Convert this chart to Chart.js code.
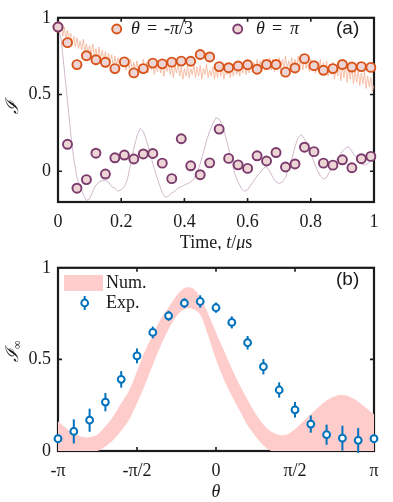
<!DOCTYPE html>
<html>
<head>
<meta charset="utf-8">
<script src="https://cdn.jsdelivr.net/npm/chart.js@4.4.1/dist/chart.umd.min.js"></script>
<style>
  body { margin: 0; background: #fff; }
  #wrap { position: relative; width: 393px; height: 502px; }
  canvas { position: absolute; left: 0; }
</style>
</head>
<body>
<div id="wrap">
  <canvas id="top" width="393" height="250" style="top:0"></canvas>
  <canvas id="bot" width="393" height="252" style="top:250px"></canvas>
</div>
<script>
// ---- panel (a): I(t) for two angles ----
const tMarkers = [0, 0.03, 0.06, 0.09, 0.12, 0.15, 0.18, 0.21, 0.24, 0.27, 0.30, 0.33, 0.36, 0.39, 0.42, 0.45, 0.48,
  0.51, 0.54, 0.57, 0.60, 0.63, 0.66, 0.69, 0.72, 0.75, 0.78, 0.81, 0.84, 0.87, 0.90, 0.93, 0.96, 0.99];
const expMinusPi3 = [0.94, 0.838, 0.695, 0.753, 0.727, 0.710, 0.669, 0.713, 0.641, 0.669, 0.705, 0.70, 0.711, 0.718,
  0.717, 0.761, 0.745, 0.682, 0.675, 0.686, 0.694, 0.665, 0.696, 0.696, 0.646, 0.673, 0.734, 0.688, 0.658, 0.669,
  0.696, 0.679, 0.682, 0.677];
const expPi = [0.94, 0.176, -0.11, -0.054, 0.118, -0.018, 0.088, 0.106, 0.08, 0.113, 0.116, 0.053, -0.048, 0.212,
  0.036, -0.022, 0.055, 0.275, 0.084, 0.042, 0.019, 0.101, 0.067, 0.122, 0.028, 0.048, 0.157, 0.128, 0.053, 0.04,
  0.075, 0.023, 0.082, 0.097];

// simulated curves, sampled on a regular time grid
const numMinusPi3Step = 0.005;
const numMinusPi3 = [
  0.95, 0.90, 0.96, 0.88, 0.94, 0.86, 0.92, 0.85, 0.90, 0.83,
  0.88, 0.81, 0.87, 0.80, 0.85, 0.79, 0.86, 0.78, 0.83, 0.77,
  0.82, 0.76, 0.83, 0.75, 0.80, 0.74, 0.81, 0.73, 0.79, 0.72,
  0.78, 0.70, 0.77, 0.71, 0.76, 0.68, 0.75, 0.69, 0.74, 0.67,
  0.73, 0.68, 0.74, 0.66, 0.72, 0.67, 0.73, 0.65, 0.71, 0.66,
  0.72, 0.64, 0.70, 0.66, 0.73, 0.65, 0.71, 0.64, 0.70, 0.66,
  0.71, 0.63, 0.69, 0.65, 0.72, 0.64, 0.70, 0.62, 0.69, 0.65,
  0.70, 0.63, 0.68, 0.61, 0.69, 0.64, 0.70, 0.62, 0.68, 0.60,
  0.67, 0.62, 0.69, 0.61, 0.67, 0.63, 0.70, 0.61, 0.68, 0.62,
  0.69, 0.60, 0.67, 0.63, 0.70, 0.61, 0.66, 0.62, 0.68, 0.60,
  0.67, 0.61, 0.69, 0.62, 0.68, 0.60, 0.66, 0.63, 0.69, 0.61,
  0.67, 0.62, 0.70, 0.63, 0.68, 0.62, 0.69, 0.64, 0.71, 0.63,
  0.70, 0.64, 0.72, 0.65, 0.71, 0.64, 0.73, 0.66, 0.72, 0.65,
  0.73, 0.66, 0.72, 0.67, 0.74, 0.66, 0.73, 0.65, 0.72, 0.67,
  0.74, 0.66, 0.73, 0.67, 0.75, 0.66, 0.72, 0.68, 0.74, 0.66,
  0.73, 0.67, 0.75, 0.68, 0.73, 0.66, 0.74, 0.67, 0.72, 0.65,
  0.73, 0.66, 0.72, 0.64, 0.71, 0.65, 0.73, 0.63, 0.71, 0.64,
  0.72, 0.62, 0.70, 0.63, 0.71, 0.60, 0.69, 0.62, 0.70, 0.59,
  0.68, 0.61, 0.69, 0.58, 0.67, 0.60, 0.68, 0.57, 0.66, 0.58,
  0.66, 0.56, 0.64, 0.57, 0.65, 0.54, 0.62, 0.55, 0.61, 0.52,
  0.56];
const numPiStep = 0.01;
const numPi = [
  0.94, 0.86, 0.66, 0.46, 0.25, 0.08, -0.04, -0.10, -0.15, -0.19,
  -0.18, -0.13, -0.09, -0.07, -0.06, -0.06, -0.07, -0.10, -0.11, -0.13,
  -0.12, -0.10, -0.05, 0.05, 0.15, 0.23, 0.28, 0.26, 0.20, 0.13,
  0.05, -0.02, -0.08, -0.14, -0.17, -0.16, -0.14, -0.13, -0.11, -0.10,
  -0.09, -0.08, -0.07, -0.05, -0.01, 0.05, 0.12, 0.20, 0.26, 0.31,
  0.35, 0.34, 0.30, 0.23, 0.15, 0.06, -0.02, -0.07, -0.11, -0.13,
  -0.12, -0.09, -0.06, -0.03, -0.01, 0.02, 0.03, 0.00, -0.04, -0.07,
  -0.08, -0.07, -0.04, 0.02, 0.08, 0.16, 0.22, 0.24, 0.21, 0.18,
  0.12, 0.06, 0.01, -0.03, -0.05, -0.04, 0.00, 0.04, 0.07, 0.10,
  0.13, 0.15, 0.16, 0.13, 0.10, 0.08, 0.05, 0.04, 0.05, 0.07,
  0.07];
const tTicks = [0, 0.2, 0.4, 0.6, 0.8, 1];
const iTicks = [0, 0.5, 1];

// ---- panel (b): I_inf vs theta ----
const thetaExpStep = Math.PI / 10;
const expInf = [0.067, 0.107, 0.168, 0.267, 0.391, 0.519, 0.647, 0.738, 0.807, 0.816, 0.782, 0.702, 0.591, 0.46,
  0.333, 0.225, 0.147, 0.089, 0.07, 0.058, 0.067];
const expInfErr = [0.02, 0.066, 0.063, 0.05, 0.045, 0.04, 0.032, 0.027, 0.027, 0.034, 0.028, 0.033, 0.037, 0.042,
  0.042, 0.042, 0.047, 0.055, 0.068, 0.068, 0.02];
const bandStep = Math.PI / 20;
const bandUpper = [0.163, 0.125, 0.095, 0.078, 0.075, 0.09, 0.135, 0.19, 0.26, 0.33, 0.435, 0.545, 0.635, 0.72,
  0.785, 0.848, 0.89, 0.89, 0.84, 0.75, 0.645, 0.55, 0.45, 0.36, 0.28, 0.205, 0.145, 0.105, 0.087, 0.09, 0.12,
  0.16, 0.2, 0.24, 0.275, 0.298, 0.305, 0.295, 0.27, 0.235, 0.2];
const bandLower = [0, 0, 0, 0, 0, 0, 0.025, 0.06, 0.11, 0.17, 0.26, 0.36, 0.47, 0.575, 0.665, 0.735, 0.775, 0.777,
  0.745, 0.63, 0.5, 0.39, 0.3, 0.22, 0.14, 0.08, 0.03, 0, 0, 0, 0, 0, 0, 0, 0, 0, 0, 0, 0, 0, 0];
const thetaTicks = [-Math.PI, -Math.PI / 2, 0, Math.PI / 2, Math.PI];
const thetaTickLabels = ['-π', '-π/2', '0', 'π/2', 'π'];

const serif = '"Liberation Serif", "Times New Roman", serif';
const sans = '"Liberation Sans", Arial, sans-serif';
const ORANGE = '#d95319', PURPLE = '#7a3a6c', FILL = '#edd5d6', BLUE = '#0072bd';

const pts = (xs, ys) => ys.map((y, i) => ({ x: xs[i], y }));
const grid = (step, ys, x0) => ys.map((y, i) => ({ x: x0 + i * step, y }));

function txt(ctx, s, x, y, italic, size, font, align) {
  ctx.font = (italic ? 'italic ' : '') + size + 'px ' + (font || serif);
  ctx.textAlign = align || 'left';
  ctx.textBaseline = 'middle';
  ctx.fillStyle = '#1a1a1a';
  ctx.fillText(s, x, y);
  return ctx.measureText(s).width;
}

function circle(ctx, x, y, r, fill, stroke, lw) {
  ctx.beginPath();
  ctx.arc(x, y, r, 0, Math.PI * 2);
  ctx.fillStyle = fill; ctx.fill();
  ctx.lineWidth = lw; ctx.strokeStyle = stroke; ctx.stroke();
}

// box with inward ticks, MATLAB style
function boxPlugin(xt, yt) {
  return {
    id: 'box',
    beforeDatasetsDraw(chart) {
      const { ctx, chartArea: a, scales } = chart;
      ctx.save();
      ctx.strokeStyle = '#1a1a1a';
      ctx.lineWidth = 1.6;
      xt.forEach(v => {
        const px = scales.x.getPixelForValue(v);
        ctx.beginPath();
        ctx.moveTo(px, a.bottom); ctx.lineTo(px, a.bottom - 4);
        ctx.moveTo(px, a.top); ctx.lineTo(px, a.top + 4);
        ctx.stroke();
      });
      yt.forEach(v => {
        const py = scales.y.getPixelForValue(v);
        ctx.beginPath();
        ctx.moveTo(a.left, py); ctx.lineTo(a.left + 4, py);
        ctx.moveTo(a.right, py); ctx.lineTo(a.right - 4, py);
        ctx.stroke();
      });
      ctx.lineWidth = 2.2;
      ctx.strokeRect(a.left, a.top, a.right - a.left, a.bottom - a.top);
      ctx.restore();
    }
  };
}

function axisScales(xmin, xmax, xticks, xlabel, xh) {
  return {
    x: {
      type: 'linear', min: xmin, max: xmax,
      afterBuildTicks: s => { s.ticks = xticks.map(v => ({ value: v })); },
      afterFit: s => { s.height = xh; },
      grid: { display: false, drawTicks: false }, border: { display: false },
      ticks: { padding: 9, maxRotation: 0, autoSkip: false, color: '#1a1a1a',
        font: { family: serif, size: 18 }, callback: xlabel }
    },
    y: {
      type: 'linear',
      afterFit: s => { s.width = 58; },
      grid: { display: false, drawTicks: false }, border: { display: false },
      ticks: { padding: 7, color: '#1a1a1a', font: { family: serif, size: 18 },
        callback: v => String(+v.toFixed(1)) }
    }
  };
}

// ---------- top chart ----------
const topScales = axisScales(0, 1, tTicks, v => String(+v.toFixed(1)), 48);
topScales.y.min = -0.2; topScales.y.max = 1;
topScales.y.afterBuildTicks = s => { s.ticks = iTicks.map(v => ({ value: v })); };

new Chart(document.getElementById('top'), {
  type: 'scatter',
  data: {
    datasets: [
      { data: pts(tMarkers, expPi), order: 0, clip: false, pointRadius: 4.5, pointBorderWidth: 1.9,
        pointBackgroundColor: FILL, pointBorderColor: PURPLE, showLine: false },
      { data: pts(tMarkers, expMinusPi3), order: 1, clip: false, pointRadius: 4.5, pointBorderWidth: 1.9,
        pointBackgroundColor: FILL, pointBorderColor: ORANGE, showLine: false },
      { data: grid(numPiStep, numPi, 0), order: 2, showLine: true, pointRadius: 0,
        borderColor: '#c6a7bf', borderWidth: 0.8 },
      { data: grid(numMinusPi3Step, numMinusPi3, 0), order: 3, showLine: true, pointRadius: 0,
        borderColor: '#f4b093', borderWidth: 0.8 }
    ]
  },
  options: {
    responsive: false, animation: false, devicePixelRatio: 1,
    layout: { padding: { left: 0, right: 19, top: 12, bottom: 0 } },
    plugins: { legend: { display: false }, tooltip: { enabled: false } },
    scales: topScales
  },
  plugins: [boxPlugin([0.2, 0.4, 0.6, 0.8], [0, 0.5]), {
    id: 'deco',
    afterDraw(chart) {
      const ctx = chart.ctx;
      ctx.save();
      // legend
      circle(ctx, 116.7, 29, 4.5, FILL, ORANGE, 1.9);
      txt(ctx, 'θ', 131, 29, true, 18);
      txt(ctx, '=', 147, 29, false, 18);
      let x = 164;
      x += txt(ctx, '-', x, 29, false, 18);
      x += txt(ctx, 'π', x, 29, true, 18);
      txt(ctx, '/3', x, 29, false, 18);
      circle(ctx, 237.7, 29, 4.5, FILL, PURPLE, 1.9);
      txt(ctx, 'θ', 256, 29, true, 18);
      txt(ctx, '=', 272, 29, false, 18);
      txt(ctx, 'π', 290, 29, true, 18);
      txt(ctx, '(a)', 336, 29, false, 19, sans);
      // x title
      const parts = [['Time, ', false], ['t', true], ['/', false], ['μ', true], ['s', false]];
      let w = 0;
      parts.forEach(p => { ctx.font = (p[1] ? 'italic ' : '') + '18px ' + serif; w += ctx.measureText(p[0]).width; });
      x = 216 - w / 2;
      parts.forEach(p => { x += txt(ctx, p[0], x, 243, p[1], 18); });
      // y title, rotated
      ctx.translate(13, 107);
      ctx.rotate(-Math.PI / 2);
      txt(ctx, 'ℐ', 0, 0, true, 18, serif, 'center');
      ctx.restore();
    }
  }]
});

// ---------- bottom chart ----------
const botScales = axisScales(-Math.PI, Math.PI, thetaTicks, v => thetaTickLabels[thetaTicks.findIndex(t => Math.abs(t - v) < 1e-6)], 51);
botScales.y.min = 0; botScales.y.max = 1;
botScales.y.afterBuildTicks = s => { s.ticks = iTicks.map(v => ({ value: v })); };

const expIndex = 0;
new Chart(document.getElementById('bot'), {
  type: 'scatter',
  data: {
    datasets: [
      { data: grid(thetaExpStep, expInf, -Math.PI), order: 0, clip: false, pointRadius: 3.4, pointBorderWidth: 2,
        pointBackgroundColor: '#fff', pointBorderColor: BLUE, showLine: false },
      { data: grid(bandStep, bandUpper, -Math.PI), order: 1, showLine: true, pointRadius: 0, borderWidth: 0,
        tension: 0.3, fill: '+1', backgroundColor: '#ffcccc', borderColor: 'rgba(0,0,0,0)' },
      { data: grid(bandStep, bandLower, -Math.PI), order: 2, showLine: true, pointRadius: 0, borderWidth: 0,
        tension: 0.3, fill: false, borderColor: 'rgba(0,0,0,0)' }
    ]
  },
  options: {
    responsive: false, animation: false, devicePixelRatio: 1,
    layout: { padding: { left: 0, right: 19, top: 11, bottom: 0 } },
    plugins: { legend: { display: false }, tooltip: { enabled: false }, filler: { propagate: false } },
    scales: botScales
  },
  plugins: [boxPlugin([-Math.PI / 2, 0, Math.PI / 2], [0.5]), {
    id: 'errbars',
    beforeDatasetDraw(chart, args) {
      if (args.index !== expIndex) return;
      const { ctx, scales } = chart;
      ctx.save();
      ctx.strokeStyle = BLUE; ctx.lineWidth = 2;
      expInf.forEach((v, i) => {
        const px = scales.x.getPixelForValue(-Math.PI + i * thetaExpStep);
        ctx.beginPath();
        ctx.moveTo(px, scales.y.getPixelForValue(v - expInfErr[i]));
        ctx.lineTo(px, scales.y.getPixelForValue(v + expInfErr[i]));
        ctx.stroke();
      });
      ctx.restore();
    }
  }, {
    id: 'deco',
    afterDraw(chart) {
      const ctx = chart.ctx;
      ctx.save();
      ctx.fillStyle = '#ffcccc';
      ctx.fillRect(64, 25, 39, 16);
      txt(ctx, 'Num.', 106, 33, false, 18);
      ctx.strokeStyle = BLUE; ctx.lineWidth = 2;
      ctx.beginPath(); ctx.moveTo(84.7, 46); ctx.lineTo(84.7, 60); ctx.stroke();
      circle(ctx, 84.7, 53, 3.4, '#fff', BLUE, 2);
      txt(ctx, 'Exp.', 106, 53, false, 18);
      txt(ctx, '(b)', 336, 30, false, 19, sans);
      txt(ctx, 'θ', 216, 242, true, 18, serif, 'center');
      ctx.translate(13, 106);
      ctx.rotate(-Math.PI / 2);
      const w = txt(ctx, 'ℐ', -6, 0, true, 18, serif, 'left');
      txt(ctx, '∞', -6 + w, 5, false, 12, serif, 'left');
      ctx.restore();
    }
  }]
});
</script>
</body>
</html>
